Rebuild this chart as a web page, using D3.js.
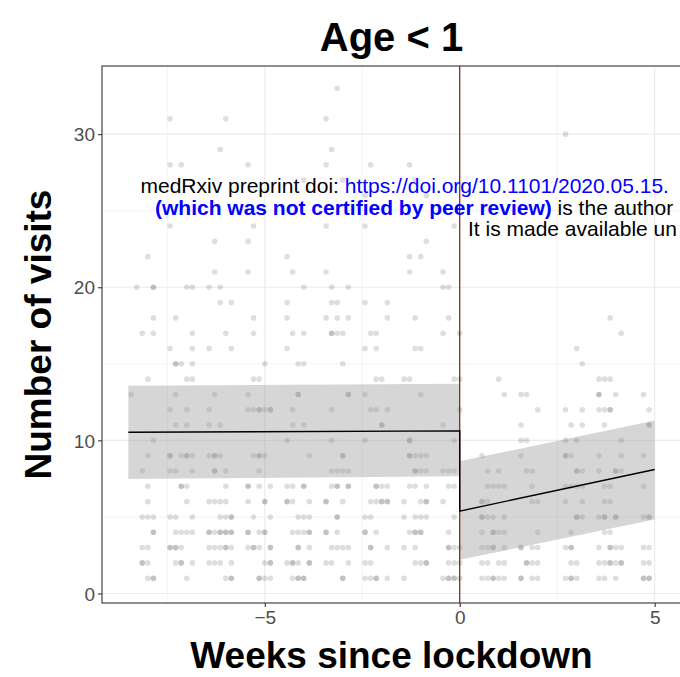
<!DOCTYPE html>
<html>
<head>
<meta charset="utf-8">
<script src="https://cdn.jsdelivr.net/npm/d3@7"></script>
<style>
  body { margin: 0; background: #fff; }
  svg { display: block; font-family: "Liberation Sans", Arial, Helvetica, sans-serif; }
</style>
</head>
<body>
<div id="chart"></div>
<script>
// days relative to lockdown (x = day / 7 weeks), one list of visit counts per day
const days = [-59, -58, -57, -56, -55, -52, -51, -50, -49, -48, -45, -44, -43, -42, -41,
  -38, -37, -36, -35, -34, -31, -30, -29, -28, -27, -24, -23, -22, -21, -20,
  -17, -16, -15, -14, -13, -10, -9, -8, -7, -6, -3, -2, -1, 0,
  4, 5, 6, 7, 8, 11, 12, 13, 14, 19, 20, 21, 22, 25, 26, 27, 28, 29, 33, 34]

const visits = [
  [13], [20], [17, 8, 5, 3, 2, 2], [22, 14, 9, 7, 6, 5, 3, 2, 1], [20, 20, 18, 17, 10, 5, 4, 4, 1, 1],
  [31, 28, 24, 16, 12, 9, 9, 8, 5, 3, 3], [18, 15, 15, 13, 11, 8, 5, 4, 3, 3, 2], [28, 15, 9, 7, 7, 4, 3, 2, 2],
  [20, 14, 12, 11, 9, 9, 7, 6, 4, 1], [20, 17, 16, 15, 14, 9, 8, 5, 4, 2],
  [20, 16, 12, 11, 9, 6, 4, 4, 3, 2], [23, 21, 13, 9, 9, 8, 8, 6, 4, 3, 2], [29, 20, 19, 11, 9, 6, 5, 4, 4, 3, 2],
  [31, 17, 8, 7, 6, 5, 4, 4, 3, 3, 1], [19, 16, 5, 5, 4, 4, 3, 2, 1, 1],
  [28, 23, 21, 13, 12, 7, 7, 6, 4, 4, 3], [24, 18, 17, 14, 12, 9, 5, 3, 3], [14, 12, 12, 9, 9, 8, 7, 4, 3, 1, 1],
  [15, 12, 9, 6, 6, 4, 4, 2, 1], [12, 12, 7, 5, 3, 3, 2, 2, 1],
  [22, 19, 18, 16, 10, 7, 6, 6, 2], [21, 17, 12, 11, 7, 6, 4, 2, 2, 1], [15, 13, 13, 5, 4, 3, 3, 2, 1, 1],
  [27, 20, 17, 15, 11, 7, 7, 5, 4, 1, 1], [9, 6, 5, 4, 4, 3, 2, 2],
  [31, 28, 24, 21, 18, 6, 6, 4, 4, 2], [29, 20, 19, 17, 17, 12, 10, 8, 7, 3, 2], [33, 19, 18, 17, 8, 7, 7, 5, 5, 4, 3],
  [27, 17, 15, 9, 9, 8, 6, 3, 1, 1], [20, 18, 13, 13, 8, 7, 7, 3, 2],
  [26, 24, 19, 16, 13, 10, 5, 4, 4, 2, 1], [28, 17, 12, 6, 5, 3, 3, 2, 1], [17, 16, 14, 12, 7, 7, 6, 4, 1, 1],
  [14, 11, 11, 7, 6, 6], [19, 18, 12, 7, 6, 6, 3, 1],
  [14, 6, 5, 3, 1], [28, 22, 21, 14, 10, 10, 9, 9, 7, 4], [27, 18, 16, 9, 8, 8, 7, 5, 4, 4, 3, 2],
  [22, 16, 13, 9, 8, 6, 5, 4, 4, 2], [26, 23, 9, 8, 7, 6, 6, 5, 2, 2],
  [21, 20, 17, 11, 8, 6, 1], [20, 18, 8, 7, 4, 3, 3, 2, 1, 1], [24, 14, 10, 8, 7, 5, 3, 2, 1, 1], [17, 14, 12, 3, 2, 1],
  [9, 6, 6, 5, 5, 4, 3, 2, 1], [8, 7, 6, 5, 3, 2, 1], [7, 5, 4, 4, 3, 3, 1, 1], [14, 8, 7, 4, 2, 1], [13, 7, 5, 4, 3, 2, 1],
  [13, 11, 10, 9, 3, 3, 1, 1], [13, 10, 8, 2, 2], [8, 7, 6, 3, 2, 1], [12, 6, 4, 3, 2, 1],
  [30, 12, 10, 9, 9, 7, 6, 3, 1], [11, 9, 7, 4, 3, 3, 2, 1, 1], [16, 10, 8, 8, 7, 5, 5, 2, 1], [15, 12, 11, 8, 7, 6, 5],
  [14, 13, 13, 12, 9, 8, 5, 3, 2, 1], [14, 12, 11, 7, 6, 5, 5, 4, 2, 1], [18, 14, 12, 12, 7, 6, 4, 3, 3, 2, 2],
  [13, 8, 8, 5, 5, 3, 2, 1], [17, 10, 9, 8, 3, 2, 2],
  [13, 9, 7, 5, 3, 2, 1, 1], [12, 11, 11, 5, 5, 3, 2, 1, 1]
]

// fitted segments (weeks) with confidence band
const preWeeks = [-8.5, 0]
const preFit = [10.53, 10.62]
const preLow = [7.48, 7.65]
const preHigh = [13.56, 13.7]
const postWeeks = [0, 5]
const postFit = [5.38, 8.1]
const postLow = [2.2, 4.84]
const postHigh = [8.63, 11.3]

const xMajor = [-5, 0, 5]
const xMinor = [-7.5, -2.5, 2.5]
const yMajor = [0, 10, 20, 30]
const yMinor = [5, 15, 25]

const width = 680
const height = 677
const panel = { left: 102, right: 681, top: 66, bottom: 603 }

const svg = d3.select('#chart')
  .append('svg')
    .attr('width', width)
    .attr('height', height)

svg.append('rect')
  .attr('width', width)
  .attr('height', height)
  .attr('fill', '#fff')

const x = d3.scaleLinear()
  .domain([-9.175, 5.675])
  .range([panel.left, panel.right])
const y = d3.scaleLinear()
  .domain([-0.62, 34.45])
  .range([panel.bottom, panel.top])

svg.append('clipPath')
  .attr('id', 'clip')
  .append('rect')
    .attr('x', panel.left)
    .attr('y', panel.top)
    .attr('width', panel.right - panel.left)
    .attr('height', panel.bottom - panel.top)

const body = svg.append('g').attr('clip-path', 'url(#clip)')

// grid
body.selectAll('.xminor').data(xMinor).enter().append('line')
  .attr('x1', d => x(d)).attr('x2', d => x(d))
  .attr('y1', panel.top).attr('y2', panel.bottom)
  .style('stroke', '#ebebeb').style('stroke-width', 0.6)
body.selectAll('.yminor').data(yMinor).enter().append('line')
  .attr('y1', d => y(d)).attr('y2', d => y(d))
  .attr('x1', panel.left).attr('x2', panel.right)
  .style('stroke', '#ebebeb').style('stroke-width', 0.6)
body.selectAll('.xmajor').data(xMajor).enter().append('line')
  .attr('x1', d => x(d)).attr('x2', d => x(d))
  .attr('y1', panel.top).attr('y2', panel.bottom)
  .style('stroke', '#ebebeb').style('stroke-width', 1.1)
body.selectAll('.ymajor').data(yMajor).enter().append('line')
  .attr('y1', d => y(d)).attr('y2', d => y(d))
  .attr('x1', panel.left).attr('x2', panel.right)
  .style('stroke', '#ebebeb').style('stroke-width', 1.1)

// points
const points = []
days.forEach((d, i) => visits[i].forEach(v => points.push({ week: d / 7, v: v })))

body.selectAll('.pt')
  .data(points)
  .enter()
  .append('circle')
    .attr('cx', d => x(d.week))
    .attr('cy', d => y(d.v))
    .attr('r', 2.8)
    .style('fill', '#000')
    .style('fill-opacity', 0.13)

// ribbons
const band = (wk, lo, hi) => wk.map((w, i) => ({ w: w, lo: lo[i], hi: hi[i] }))
const area = d3.area()
  .x(d => x(d.w))
  .y0(d => y(d.lo))
  .y1(d => y(d.hi))

body.selectAll('.band')
  .data([band(preWeeks, preLow, preHigh), band(postWeeks, postLow, postHigh)])
  .enter()
  .append('path')
    .attr('d', area)
    .style('fill', '#999')
    .style('fill-opacity', 0.4)

// lockdown line
body.append('line')
  .attr('x1', x(0)).attr('x2', x(0))
  .attr('y1', panel.top).attr('y2', panel.bottom)
  .style('stroke', '#8b0000')
  .style('stroke-width', 1.1)

// fitted line (one path through both segments)
const fitPts = preWeeks.map((w, i) => [w, preFit[i]])
  .concat(postWeeks.map((w, i) => [w, postFit[i]]))
body.append('path')
  .attr('d', d3.line().x(d => x(d[0])).y(d => y(d[1]))(fitPts))
  .style('fill', 'none')
  .style('stroke', '#000')
  .style('stroke-width', 1.4)

// panel border
svg.append('rect')
  .attr('x', panel.left)
  .attr('y', panel.top)
  .attr('width', panel.right - panel.left)
  .attr('height', panel.bottom - panel.top)
  .style('fill', 'none')
  .style('stroke', '#333')
  .style('stroke-width', 1.1)

// axes
const xAxis = svg.append('g')
  .attr('transform', `translate(0,${panel.bottom})`)
  .call(d3.axisBottom(x).tickValues(xMajor).tickSize(4).tickPadding(3))
const yAxis = svg.append('g')
  .attr('transform', `translate(${panel.left},0)`)
  .call(d3.axisLeft(y).tickValues(yMajor).tickSize(4).tickPadding(3))

;[xAxis, yAxis].forEach(a => {
  a.select('.domain').remove()
  a.selectAll('.tick line').style('stroke', '#333').style('stroke-width', 1.1)
  a.selectAll('.tick text')
    .style('fill', '#4d4d4d')
    .style('font-size', '19px')
    .style('font-family', '"Liberation Sans", Arial, Helvetica, sans-serif')
})
xAxis.selectAll('.tick text').attr('dy', '0.72em')
yAxis.selectAll('.tick text').attr('dy', '0.35em')

// titles
svg.append('text')
  .attr('x', (panel.left + panel.right) / 2)
  .attr('y', 51)
  .attr('text-anchor', 'middle')
  .style('font-size', '40px')
  .style('font-weight', 'bold')
  .text('Age < 1')

svg.append('text')
  .attr('x', (panel.left + panel.right) / 2)
  .attr('y', 668)
  .attr('text-anchor', 'middle')
  .style('font-size', '37px')
  .style('font-weight', 'bold')
  .text('Weeks since lockdown')

svg.append('text')
  .attr('transform', `translate(51,${(panel.top + panel.bottom) / 2}) rotate(-90)`)
  .attr('text-anchor', 'middle')
  .style('font-size', '37px')
  .style('font-weight', 'bold')
  .text('Number of visits')

// medRxiv watermark (only the part that shows inside the page)
const wm = svg.append('g').style('font-size', '21px')
const l1 = wm.append('text').attr('x', 140.5).attr('y', 193)
l1.append('tspan').style('fill', '#000').text('medRxiv preprint doi: ')
l1.append('tspan').style('fill', '#0000ff').text('https://doi.org/10.1101/2020.05.15.')
const l2 = wm.append('text').attr('x', 155).attr('y', 215)
l2.append('tspan').style('fill', '#0000ff').style('font-weight', 'bold').text('(which was not certified by peer review)')
l2.append('tspan').style('fill', '#000').text(' is the author')
wm.append('text').attr('x', 468).attr('y', 236)
  .style('fill', '#000')
  .text('It is made available un')
</script>
</body>
</html>
